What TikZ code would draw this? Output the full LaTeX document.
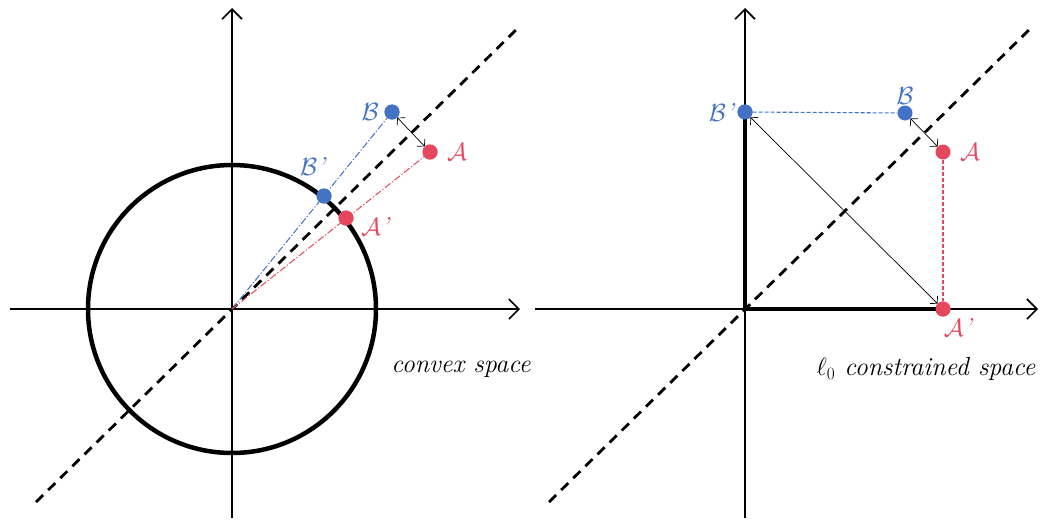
\documentclass[tikz,border=0pt]{standalone}
\usepackage{tikz}
\usetikzlibrary{arrows.meta, positioning}
\definecolor{ptblue}{HTML}{4472C4}
\definecolor{ptred}{HTML}{E5475E}
\tikzstyle{axis}=[line width=1.6pt, -{Straight Barb[length=10pt, width=20pt]}]
\tikzstyle{diag}=[line width=2.8pt, dash pattern=on 10pt off 7pt]
\tikzstyle{bound}=[line width=4.5pt]
\tikzstyle{dot}=[circle, inner sep=0pt, minimum size=15pt]
\tikzstyle{gap}=[line width=0.7pt, {Straight Barb[length=5pt, width=11pt]}-{Straight Barb[length=5pt, width=11pt]}]
\tikzstyle{proj}=[line width=1pt, dash pattern=on 7pt off 2pt on 1.2pt off 2pt]
\tikzstyle{link}=[line width=1.1pt, dash pattern=on 4pt off 2pt]

\begin{document}
\begin{tikzpicture}[x=1pt, y=-1pt, font=\fontsize{26}{30}\selectfont\itshape]
    \useasboundingbox (0,0) rectangle (1041,520);

    % left: convex space
    \coordinate (o1) at (232,309);
    \coordinate (xl1) at (10,309);
    \coordinate (xr1) at (520,309);
    \coordinate (yb1) at (232,518);
    \coordinate (yt1) at (232,8);
    \coordinate (dl1) at (36,502);
    \coordinate (dr1) at (519,27);
    \draw[axis] (xl1) -- (xr1);
    \draw[axis] (yb1) -- (yt1);
    \draw[bound] (o1) circle (144);
    \draw[diag] (dl1) -- (dr1);

    \node[dot, fill=ptblue] (B1) at (392,112) {};
    \node[dot, fill=ptred] (A1) at (430,152) {};
    \node[dot, fill=ptblue] (Bp1) at (324,196) {};
    \node[dot, fill=ptred] (Ap1) at (346,218) {};
    \draw[proj, ptblue] (o1) -- (B1);
    \draw[proj, ptred] (o1) -- (A1);
    \node[dot, fill=ptblue] at (B1) {};
    \node[dot, fill=ptred] at (A1) {};
    \node[dot, fill=ptblue] at (Bp1) {};
    \node[dot, fill=ptred] at (Ap1) {};
    \draw[gap] (B1) -- (A1);

    \node[left=2pt of B1, text=ptblue] (lB1) {$\mathcal{B}$};
    \node[above left=12pt and -10pt of Bp1, text=ptblue] (lBp1) {$\mathcal{B}$'};
    \node[right=6pt of A1, text=ptred] (lA1) {$\mathcal{A}$};
    \node[right=4pt of Ap1, yshift=-8pt, text=ptred] (lAp1) {$\mathcal{A}$'};
    \node (cap1) at (461,369) {convex space};

    % right: l0 constrained space
    \coordinate (o2) at (745,309);
    \coordinate (xl2) at (535,309);
    \coordinate (xr2) at (1038,309);
    \coordinate (yb2) at (745,518);
    \coordinate (yt2) at (745,8);
    \coordinate (dl2) at (549,502);
    \coordinate (dr2) at (1032,27);
    \draw[axis] (xl2) -- (xr2);
    \draw[axis] (yb2) -- (yt2);
    \draw[diag] (dl2) -- (dr2);

    \node[dot, fill=ptblue] (Bp2) at (745,112) {};
    \node[dot, fill=ptblue] (B2) at (905,113) {};
    \node[dot, fill=ptred] (A2) at (943,152) {};
    \node[dot, fill=ptred] (Ap2) at (943,309) {};
    \draw[bound] (Bp2.center) -- (o2) -- (Ap2.center);
    \draw[link, ptblue] (Bp2) -- (B2);
    \draw[link, ptred] (A2) -- (Ap2);
    \node[dot, fill=ptblue] at (Bp2) {};
    \node[dot, fill=ptred] at (Ap2) {};
    \draw[gap] (B2) -- (A2);
    \draw[gap] (Bp2) -- (Ap2);

    \node[left=0pt of Bp2, text=ptblue] (lBp2) {$\mathcal{B}$'};
    \node[above=-3pt of B2, text=ptblue] (lB2) {$\mathcal{B}$};
    \node[right=6pt of A2, text=ptred] (lA2) {$\mathcal{A}$};
    \node[below right=0pt and -8pt of Ap2, text=ptred] (lAp2) {$\mathcal{A}$'};
    \node (cap2) at (926,369) {$\ell_0$ constrained space};
\end{tikzpicture}
\end{document}
